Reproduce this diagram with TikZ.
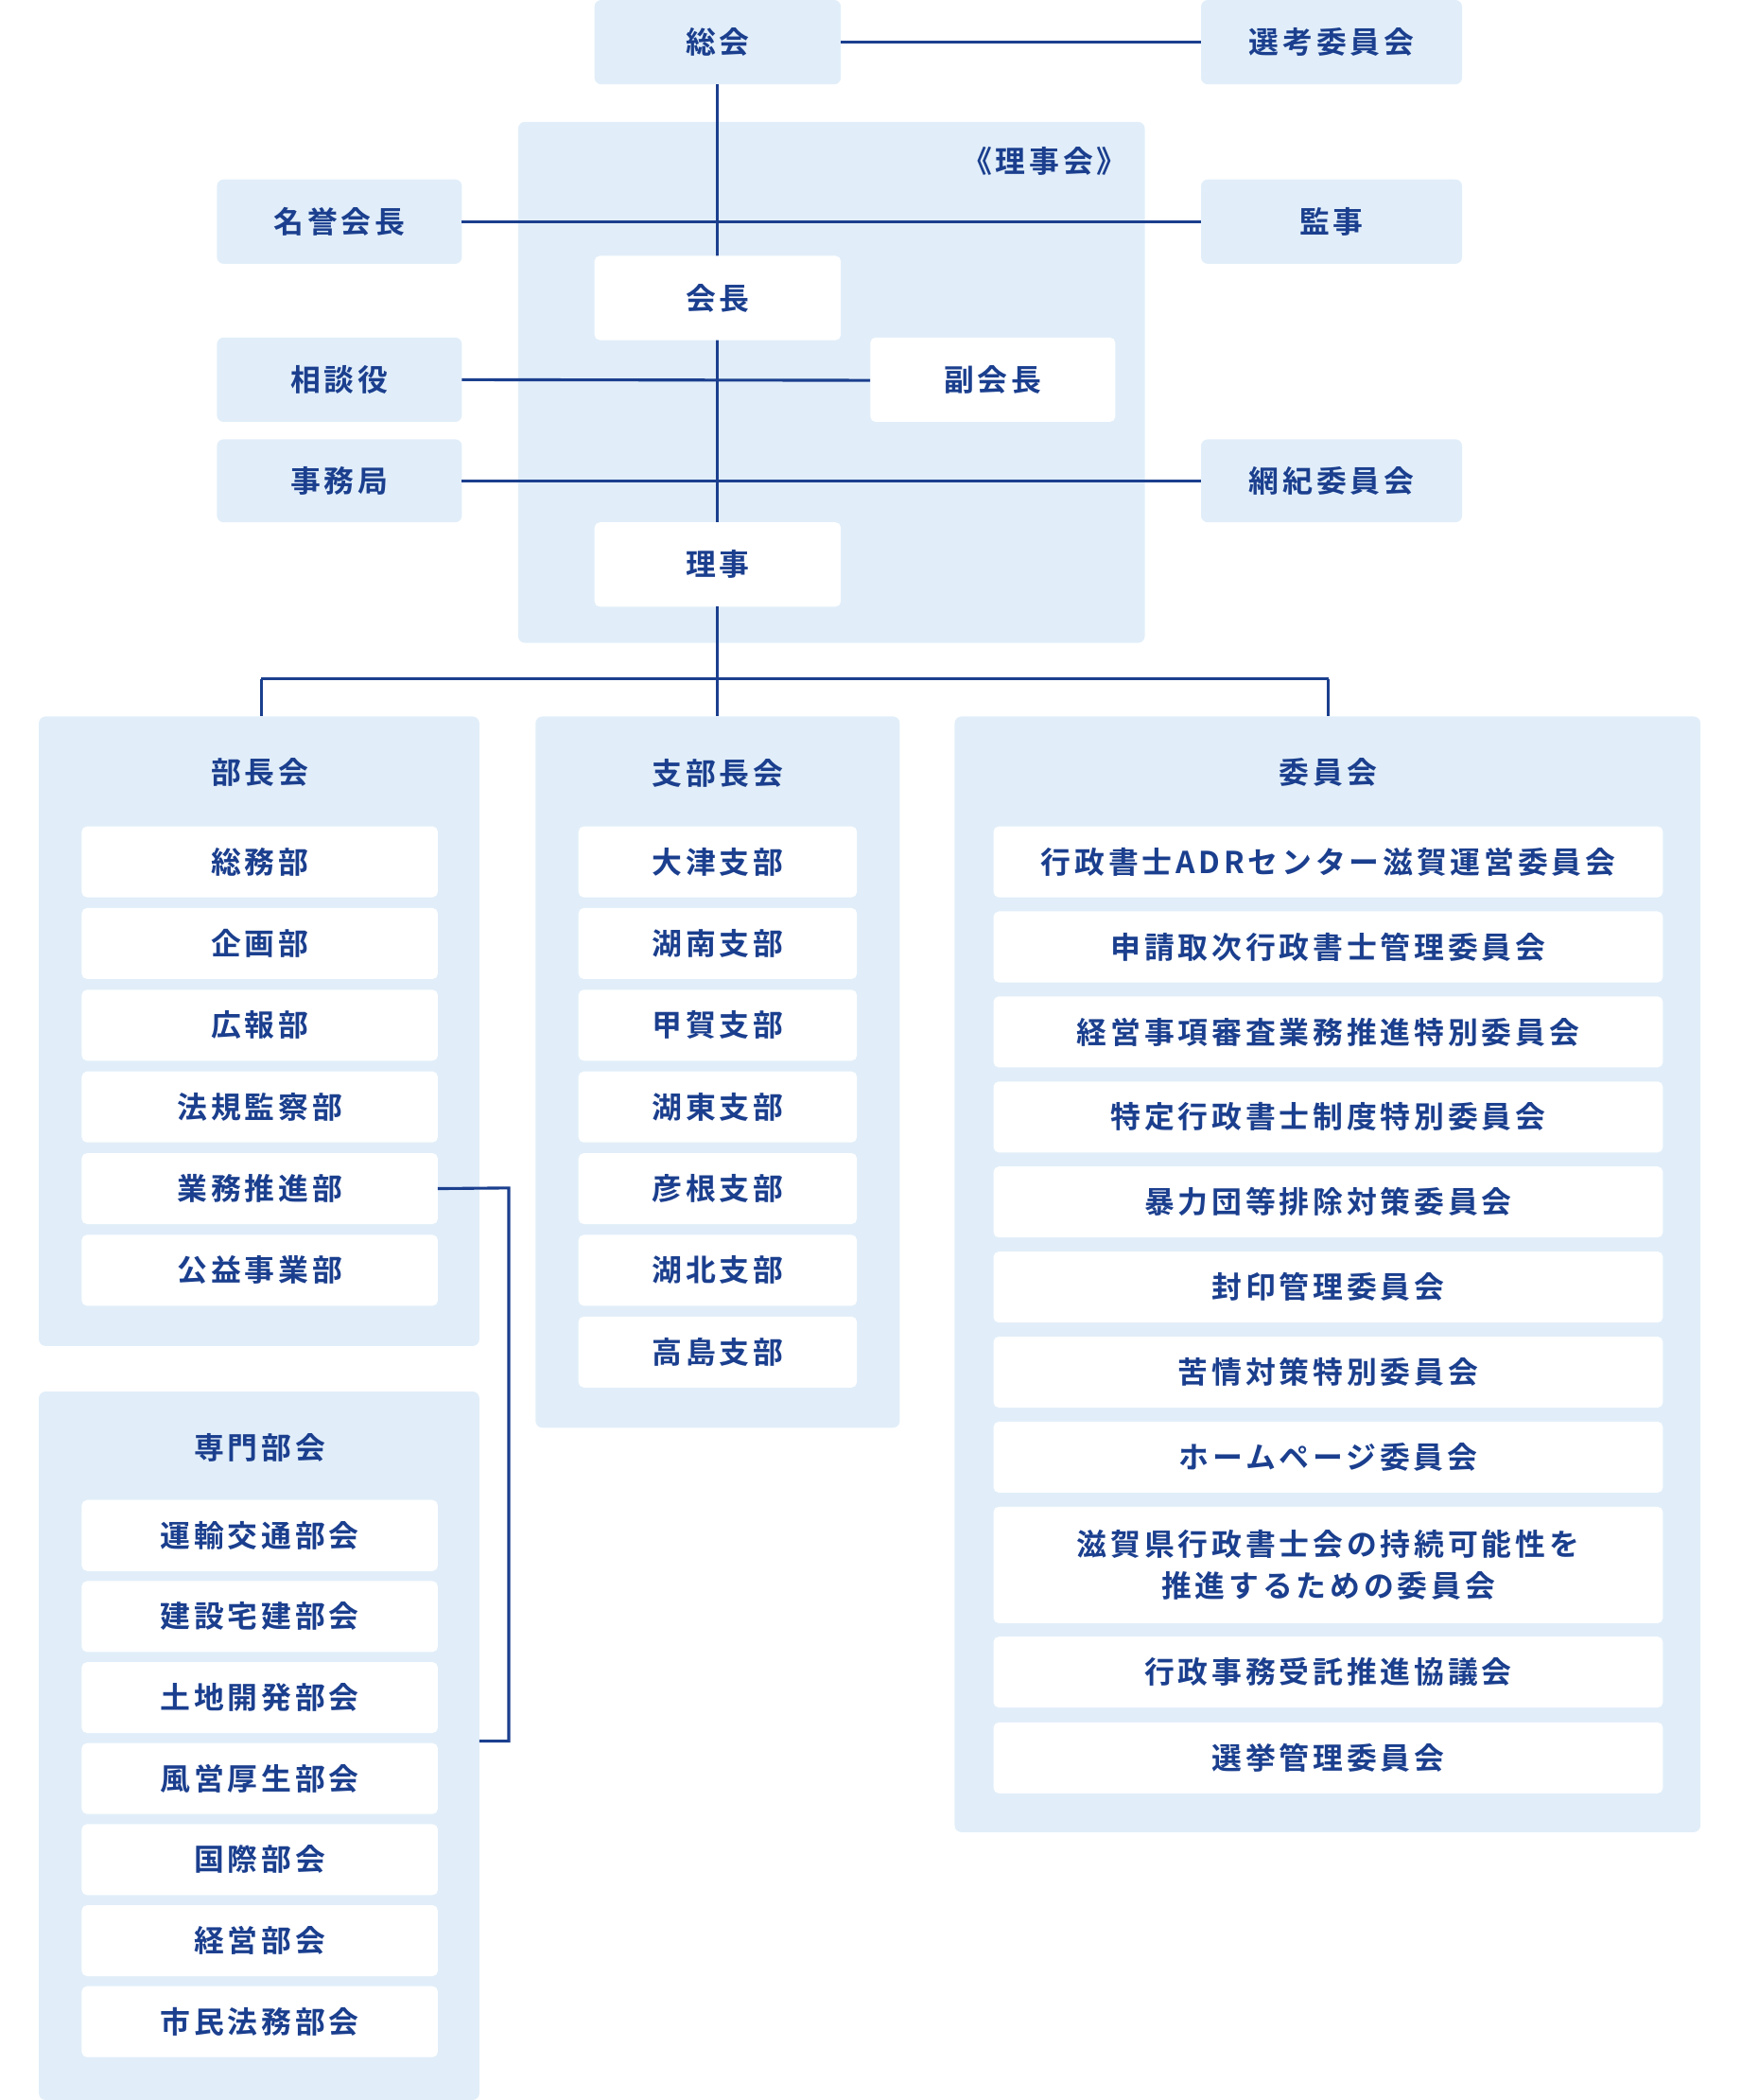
\documentclass[tikz,border=0pt]{standalone}
\usepackage{fontspec}
\setmainfont{Noto Sans CJK JP}[BoldFont={* Bold},LetterSpace=12]
\definecolor{tx}{HTML}{1B3F8E}
\definecolor{pn}{HTML}{E1EEF9}
\definecolor{ln}{HTML}{1B3F8E}
\tikzset{
 pan/.style={fill=pn,rounded corners=5pt,draw=none},
 wb/.style={fill=white,rounded corners=4pt,draw=none},
 lb/.style={text=tx,font=\fontsize{22.5}{31}\selectfont\bfseries,align=center,inner sep=0pt},
 con/.style={draw=ln,line width=2.2pt}
}
\newcommand{\bx}[7]{% name, style, x1,y1,x2,y2,text
 \path[#2] (#3,#4) rectangle (#5,#6);
 \node[lb] (#1) at ({(#3+#5)/2},{(#4+#6)/2}) {#7};
 \coordinate (#1-n) at ({(#3+#5)/2},#4);
 \coordinate (#1-s) at ({(#3+#5)/2},#6);
 \coordinate (#1-w) at (#3,{(#4+#6)/2});
 \coordinate (#1-e) at (#5,{(#4+#6)/2});}
\begin{document}
\begin{tikzpicture}[x=1pt,y=-1pt]
\useasboundingbox (0,0) rectangle (1300,1568);
\path[pan] (387,91) rectangle (855,480);
\node[lb] (rjk) at (780,120) {《理事会》};
\bx{sokai}{pan}{444}{0}{628}{63}{総会}
\bx{senko}{pan}{897}{0}{1092}{63}{選考委員会}
\bx{meiyo}{pan}{162}{134}{345}{197}{名誉会長}
\bx{kanji}{pan}{897}{134}{1092}{197}{監事}
\bx{sodan}{pan}{162}{252}{345}{315}{相談役}
\bx{jimu}{pan}{162}{328}{345}{390}{事務局}
\bx{koki}{pan}{897}{328}{1092}{390}{網紀委員会}
\coordinate (c4) at (536,507);
\coordinate (bl) at (195,507);
\coordinate (br) at (992,507);
\draw[con] (sokai-e) -- (senko-w);
\draw[con] (meiyo-e) -- (kanji-w);
\draw[con] (jimu-e) -- (koki-w);
\draw[con] (sokai-s) -- (536,390);
\draw[con] (sodan-e) -- (650,284);
\bx{kaicho}{wb}{444}{191}{628}{254}{会長}
\bx{fuku}{wb}{650}{252}{833}{315}{副会長}
\bx{riji}{wb}{444}{390}{628}{453}{理事}
\draw[con] (riji-s) -- (c4);
\draw[con] (bl) -- (br);
\draw[con] (bl) -- (195,535);
\draw[con] (c4) -- (536,535);
\draw[con] (br) -- (992,535);
\path[pan] (29,535) rectangle (358,1005);
\node[lb] (bucho) at (194,577) {部長会};
\path[pan] (29,1039) rectangle (358,1568);
\node[lb] (senmon) at (194,1081) {専門部会};
\path[pan] (400,535) rectangle (672,1066);
\node[lb] (shibu) at (536,577) {支部長会};
\path[pan] (713,535) rectangle (1270,1368);
\node[lb] (iin) at (992,577) {委員会};
\foreach \t [count=\i from 0] in {総務部,企画部,広報部,法規監察部,業務推進部,公益事業部}
 {\bx{b\i}{wb}{61}{617+61*\i}{327}{670+61*\i}{\t}}
\foreach \t [count=\i from 0] in {運輸交通部会,建設宅建部会,土地開発部会,風営厚生部会,国際部会,経営部会,市民法務部会}
 {\bx{s\i}{wb}{61}{1120+60.5*\i}{327}{1173+60.5*\i}{\t}}
\foreach \t [count=\i from 0] in {大津支部,湖南支部,甲賀支部,湖東支部,彦根支部,湖北支部,高島支部}
 {\bx{h\i}{wb}{432}{617+61*\i}{640}{670+61*\i}{\t}}
\foreach \t [count=\i from 0] in {行政書士ADRセンター滋賀運営委員会,申請取次行政書士管理委員会,経営事項審査業務推進特別委員会,特定行政書士制度特別委員会,暴力団等排除対策委員会,封印管理委員会,苦情対策特別委員会,ホームページ委員会}
 {\bx{i\i}{wb}{742}{617+63.5*\i}{1242}{670+63.5*\i}{\t}}
\bx{i8}{wb}{742}{1125}{1242}{1212}{滋賀県行政書士会の持続可能性を\\推進するための委員会}
\bx{i9}{wb}{742}{1222}{1242}{1275}{行政事務受託推進協議会}
\bx{i10}{wb}{742}{1286}{1242}{1339}{選挙管理委員会}
\coordinate (k1) at (380,887);
\coordinate (k2) at (380,1300);
\draw[con] (b4-e) -- (k1) -- (k2) -- (358,1300);
\end{tikzpicture}
\end{document}
